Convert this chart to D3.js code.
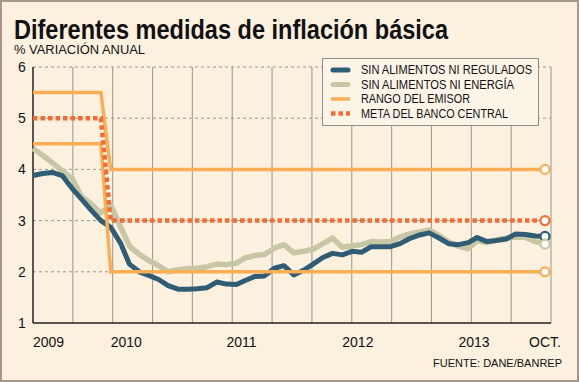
<!DOCTYPE html>
<html>
<head>
<meta charset="utf-8">
<script src="https://cdn.jsdelivr.net/npm/d3@7"></script>
<style>
  html, body { margin: 0; padding: 0; background: #fcf0df; }
  svg { display: block; }
  text { font-family: "Liberation Sans", Arial, sans-serif; fill: #111; }
</style>
</head>
<body>
<svg id="chart" width="579" height="382"></svg>
<script>
// ---- DATA ----
const months = [
  "2009-05","2009-06","2009-07","2009-08","2009-09","2009-10","2009-11","2009-12",
  "2010-01","2010-02","2010-03","2010-04","2010-05","2010-06","2010-07","2010-08","2010-09","2010-10","2010-11","2010-12",
  "2011-01","2011-02","2011-03","2011-04","2011-05","2011-06","2011-07","2011-08","2011-09","2011-10","2011-11","2011-12",
  "2012-01","2012-02","2012-03","2012-04","2012-05","2012-06","2012-07","2012-08","2012-09","2012-10","2012-11","2012-12",
  "2013-01","2013-02","2013-03","2013-04","2013-05","2013-06","2013-07","2013-08","2013-09","2013-10"
];
const sinAlimentosNiRegulados = [
  3.88,3.92,3.94,3.88,3.63,3.42,3.20,3.00,
  2.87,2.56,2.15,2.00,1.93,1.85,1.73,1.66,1.66,1.67,1.69,1.80,
  1.76,1.75,1.83,1.91,1.92,2.07,2.12,1.94,2.03,2.15,2.28,2.36,
  2.33,2.40,2.38,2.49,2.49,2.49,2.55,2.65,2.72,2.76,2.66,2.55,
  2.53,2.57,2.67,2.59,2.61,2.64,2.74,2.73,2.70,2.69
];
const sinAlimentosNiEnergia = [
  4.41,4.27,4.13,3.97,3.83,3.47,3.32,3.15,
  3.30,2.88,2.50,2.34,2.22,2.12,2.00,2.04,2.06,2.07,2.10,2.15,
  2.14,2.17,2.27,2.32,2.34,2.46,2.53,2.37,2.40,2.44,2.55,2.66,
  2.48,2.51,2.53,2.59,2.58,2.59,2.68,2.74,2.78,2.82,2.71,2.58,
  2.50,2.45,2.61,2.57,2.62,2.66,2.68,2.67,2.59,2.54
];
const targetDates = ["2009-05","2009-12","2010-01","2013-10"];
const rangoSuperior = [5.5, 5.5, 4, 4];
const rangoInferior = [4.5, 4.5, 2, 2];
const metaBancoCentral = [5, 5, 3, 3];

const yTicks = [1, 2, 3, 4, 5, 6];
const xLabelDates = ["2009-05","2010-01","2011-01","2012-01","2013-01"];
const xLabels = ["2009","2010","2011","2012","2013"];
const endLabel = "OCT.";

const legendLabels = ["SIN ALIMENTOS NI REGULADOS","SIN ALIMENTOS NI ENERGÍA","RANGO DEL EMISOR","META DEL BANCO CENTRAL"];
const title = "Diferentes medidas de inflación básica";
const subtitle = "% VARIACIÓN ANUAL";
const source = "FUENTE: DANE/BANREP";

// ---- STYLE ----
const C = {
  bg: "#fcf0df", blue: "#2f5d75", beige: "#c8c7a5", orange: "#fcae55", meta: "#f26c36",
  grid: "#a39c95", hgrid: "#9a9590", border: "#a8978a"
};

const parse = d3.timeParse("%Y-%m");
const svg = d3.select("#chart");
const W = 579, H = 382;
const plot = { left: 33, right: 551, top: 67, bottom: 323 };

const x = d3.scaleTime()
  .domain([parse(months[0]), parse(months[months.length - 1])])
  .range([plot.left, 545]);
const y = d3.scaleLinear().domain([1, 6]).range([plot.bottom, plot.top]);

// background + border
svg.append("rect").attr("x", 1).attr("y", 1).attr("width", W - 2).attr("height", H - 2)
  .attr("fill", C.bg).attr("stroke", C.border).attr("stroke-width", 2);

// title
svg.append("text").attr("x", 14).attr("y", 38.5).text(title)
  .attr("font-size", 28).attr("font-weight", "bold")
  .attr("textLength", 434).attr("lengthAdjust", "spacingAndGlyphs");
svg.append("text").attr("x", 14).attr("y", 54).text(subtitle)
  .attr("font-size", 12.5).attr("textLength", 131).attr("lengthAdjust", "spacingAndGlyphs");

// vertical gridlines (13 equal intervals)
const gx = d3.scaleLinear().domain([0, 13]).range([plot.left, plot.right]);
svg.append("g").selectAll("line").data(d3.range(1, 14)).join("line")
  .attr("x1", d => gx(d)).attr("x2", d => gx(d))
  .attr("y1", plot.top).attr("y2", plot.bottom)
  .attr("stroke", C.grid).attr("stroke-width", 1.1);

// horizontal dashed gridlines
svg.append("g").selectAll("line").data(yTicks.filter(d => d > 1)).join("line")
  .attr("x1", plot.left).attr("x2", plot.right)
  .attr("y1", d => y(d)).attr("y2", d => y(d))
  .attr("stroke", C.hgrid).attr("stroke-width", 1).attr("stroke-dasharray", "3,3");

// axes lines
svg.append("line").attr("x1", plot.left).attr("x2", plot.left).attr("y1", plot.top).attr("y2", plot.bottom)
  .attr("stroke", "#222").attr("stroke-width", 1.5);
svg.append("line").attr("x1", plot.left).attr("x2", plot.right).attr("y1", plot.bottom).attr("y2", plot.bottom)
  .attr("stroke", "#222").attr("stroke-width", 1.5);

// y labels
svg.append("g").selectAll("text").data(yTicks).join("text")
  .attr("x", 22).attr("y", d => y(d) + 5).attr("text-anchor", "middle")
  .attr("font-size", 14).text(d => d);

// x labels
svg.append("g").selectAll("text").data(xLabelDates).join("text")
  .attr("x", d => x(parse(d))).attr("y", 347)
  .attr("font-size", 14).text((d, i) => xLabels[i]);
svg.append("text").attr("x", x(parse(months[months.length - 1])) + 16).attr("y", 347)
  .attr("text-anchor", "end").attr("font-size", 14).text(endLabel);

svg.append("text").attr("x", 562).attr("y", 367).attr("text-anchor", "end")
  .attr("font-size", 11).text(source);

// lines
const line = d3.line().x(d => x(d[0])).y(d => y(d[1]));
const series = (dates, vals) => dates.map((d, i) => [parse(d), vals[i]]);

const beigeData = series(months, sinAlimentosNiEnergia);
const blueData = series(months, sinAlimentosNiRegulados);
const upData = series(targetDates, rangoSuperior);
const loData = series(targetDates, rangoInferior);
const metaData = series(targetDates, metaBancoCentral);

svg.append("path").attr("d", line(beigeData)).attr("fill", "none")
  .attr("stroke", C.beige).attr("stroke-width", 5.5).attr("stroke-linejoin", "round");
svg.append("path").attr("d", line(blueData)).attr("fill", "none")
  .attr("stroke", C.blue).attr("stroke-width", 5).attr("stroke-linejoin", "round");
[upData, loData].forEach(dd => {
  svg.append("path").attr("d", line(dd)).attr("fill", "none")
    .attr("stroke", C.orange).attr("stroke-width", 3.5);
});
svg.append("path").attr("d", line(metaData)).attr("fill", "none")
  .attr("stroke", C.meta).attr("stroke-width", 4.5).attr("stroke-dasharray", "4.5,3");

// end circles
const ends = [
  [upData, C.orange], [loData, C.orange], [metaData, C.meta],
  [blueData, C.blue], [beigeData, C.beige]
];
svg.append("g").selectAll("circle").data(ends).join("circle")
  .attr("cx", d => x(d[0][d[0].length - 1][0]))
  .attr("cy", d => y(d[0][d[0].length - 1][1]))
  .attr("r", 4.5).attr("fill", "#fff").attr("stroke", d => d[1]).attr("stroke-width", 2.2);

// legend
const lg = svg.append("g");
lg.append("rect").attr("x", 322.5).attr("y", 58.5).attr("width", 216).attr("height", 67)
  .attr("fill", "#fdf4e8").attr("stroke", "#8e8e8e").attr("stroke-width", 1);
const legendStyles = [
  { c: C.blue, w: 5, dash: null, cap: "round", len: 171 },
  { c: C.beige, w: 5, dash: null, cap: "round", len: 153 },
  { c: C.orange, w: 3.5, dash: null, cap: "butt", len: 109 },
  { c: C.meta, w: 4.5, dash: "4.5,3", cap: "butt", len: 147 }
];
legendLabels.forEach((lab, i) => {
  const yy = 70 + i * 14.5;
  const s = legendStyles[i];
  lg.append("line").attr("x1", s.cap === "round" ? 333 : 331).attr("x2", s.cap === "round" ? 348 : 350)
    .attr("y1", yy).attr("y2", yy).attr("stroke", s.c).attr("stroke-width", s.w)
    .attr("stroke-linecap", s.cap).attr("stroke-dasharray", s.dash);
  lg.append("text").attr("x", 361).attr("y", yy + 4.3).attr("font-size", 12)
    .attr("textLength", s.len).attr("lengthAdjust", "spacingAndGlyphs").text(lab);
});
</script>
</body>
</html>
